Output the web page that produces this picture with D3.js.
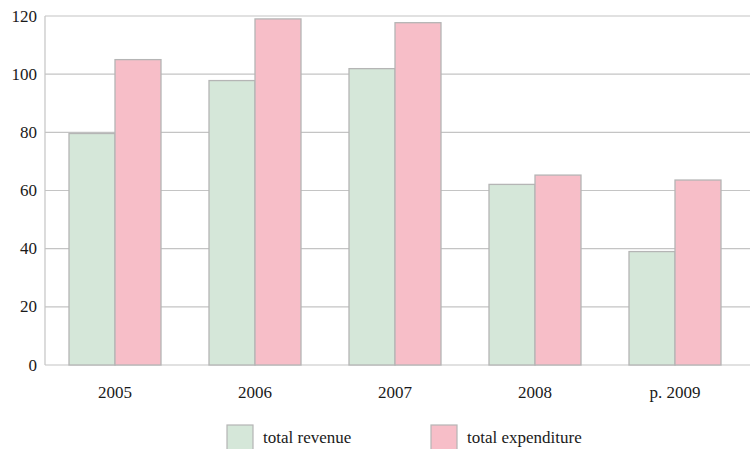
<!DOCTYPE html>
<html>
<head>
<meta charset="utf-8">
<script src="https://cdn.jsdelivr.net/npm/d3@7"></script>
<style>
  body { margin: 0; background: #fff; }
  svg text { font-family: "Liberation Serif", "DejaVu Serif", serif; fill: #1a1a1a; }
</style>
</head>
<body>
<svg class="chart" width="750" height="449"></svg>
<script>
var years = ["2005", "2006", "2007", "2008", "p. 2009"];
var revenue = [79.6, 97.8, 101.9, 62.1, 39];
var expenditure = [105, 119, 117.7, 65.3, 63.6];
var seriesNames = ["total revenue", "total expenditure"];
var seriesColors = ["#d5e7d9", "#f7bec8"];
var yTicks = [0, 20, 40, 60, 80, 100, 120];

var svgElem = d3.select("svg.chart"),
    plotLeft = 45, plotRight = 745, plotTop = 16, plotBottom = 365;

var x = d3.scaleBand()
    .domain(years)
    .range([plotLeft, plotRight])
    .paddingInner(0.343)
    .paddingOuter(0.1715);

var xs = d3.scaleBand()
    .domain([0, 1])
    .range([0, x.bandwidth()]);

var y = d3.scaleLinear()
    .domain([0, 120])
    .range([plotBottom, plotTop]);

// gridlines
svgElem.append("g").selectAll("line")
    .data(yTicks)
    .enter().append("line")
    .attr("x1", plotLeft).attr("x2", 750)
    .attr("y1", function (d) { return y(d); })
    .attr("y2", function (d) { return y(d); })
    .attr("stroke", "#c4c4c4")
    .attr("stroke-width", 1.2);

// left border
svgElem.append("line")
    .attr("x1", plotLeft).attr("x2", plotLeft)
    .attr("y1", y(120)).attr("y2", y(0))
    .attr("stroke", "#c4c4c4")
    .attr("stroke-width", 1.2);

// y labels
svgElem.append("g").selectAll("text")
    .data(yTicks)
    .enter().append("text")
    .attr("x", 37)
    .attr("y", function (d) { return y(d); })
    .attr("dy", "0.33em")
    .style("text-anchor", "end")
    .style("font-size", "17px")
    .text(function (d) { return d; });

// bars
var rows = years.map(function (yr, i) { return { year: yr, values: [revenue[i], expenditure[i]] }; });

var group = svgElem.append("g").selectAll("g")
    .data(rows)
    .enter().append("g")
    .attr("transform", function (d) { return "translate(" + x(d.year) + ",0)"; });

group.selectAll("rect")
    .data(function (d) { return d.values.map(function (v, k) { return { k: k, v: v }; }); })
    .enter().append("rect")
    .attr("x", function (d) { return xs(d.k); })
    .attr("width", xs.bandwidth())
    .attr("y", function (d) { return y(d.v); })
    .attr("height", function (d) { return y(0) - y(d.v); })
    .attr("fill", function (d) { return seriesColors[d.k]; })
    .attr("stroke", "#b5b5b5")
    .attr("stroke-width", 1.3);

// x labels
svgElem.append("g").selectAll("text")
    .data(years)
    .enter().append("text")
    .attr("x", function (d) { return x(d) + x.bandwidth() / 2; })
    .attr("y", 398)
    .style("text-anchor", "middle")
    .style("font-size", "17px")
    .text(function (d) { return d; });

// legend
var legendX = [227, 431];
var legend = svgElem.append("g").selectAll("g")
    .data(seriesNames)
    .enter().append("g")
    .attr("transform", function (d, i) { return "translate(" + legendX[i] + ",425)"; });

legend.append("rect")
    .attr("width", 26).attr("height", 26)
    .attr("fill", function (d, i) { return seriesColors[i]; })
    .attr("stroke", "#b5b5b5")
    .attr("stroke-width", 1.2);

legend.append("text")
    .attr("x", 36)
    .attr("y", 18)
    .style("font-size", "17px")
    .text(function (d) { return d; });
</script>
</body>
</html>
